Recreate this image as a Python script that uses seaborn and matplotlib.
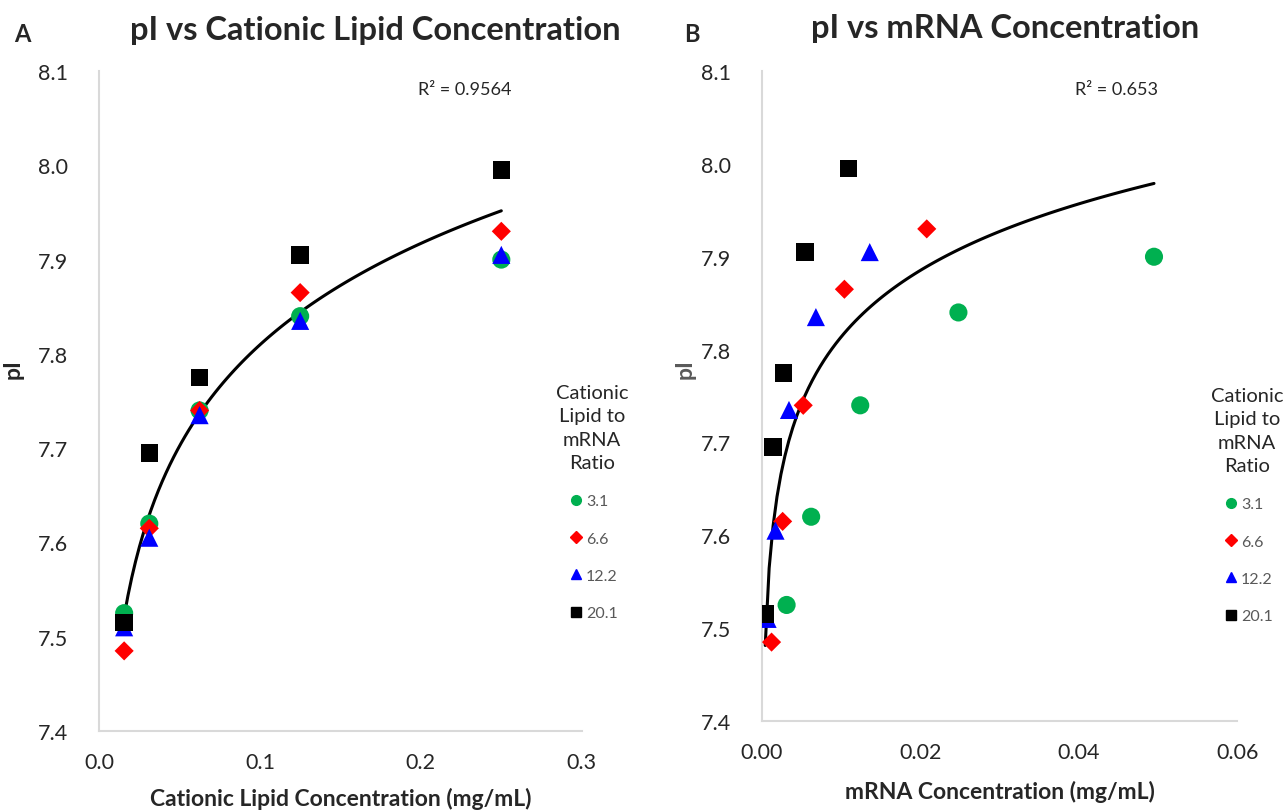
import pandas as pd
import matplotlib
matplotlib.use('Agg')
import matplotlib.pyplot as plt
import seaborn as sns
from matplotlib.lines import Line2D
from matplotlib.ticker import FormatStrFormatter, MultipleLocator

# Dados
razoes = ['3.1', '6.6', '12.2', '20.1']
lipid_conc = [0.015625, 0.03125, 0.0625, 0.125, 0.25]
mrna_conc = {
    '3.1': [0.0031, 0.0062, 0.0124, 0.0248, 0.0495],
    '6.6': [0.0012, 0.0026, 0.0052, 0.0104, 0.0208],
    '12.2': [0.0007, 0.0017, 0.0034, 0.0068, 0.0136],
    '20.1': [0.0004, 0.00136, 0.0027, 0.0054, 0.0109],
}
pI = {
    '3.1': [7.525, 7.62, 7.74, 7.84, 7.90],
    '6.6': [7.485, 7.615, 7.74, 7.865, 7.93],
    '12.2': [7.51, 7.605, 7.735, 7.835, 7.905],
    '20.1': [7.515, 7.695, 7.775, 7.905, 7.995],
}
r2_lipid = 'R² = 0.9564'
r2_mrna = 'R² = 0.653'

cores = {'3.1': '#00b050', '6.6': '#ff0000', '12.2': '#0000ff', '20.1': '#000000'}
marcadores = {'3.1': 'o', '6.6': 'D', '12.2': '^', '20.1': 's'}
tamanhos = {'3.1': 170, '6.6': 95, '12.2': 170, '20.1': 160}

linhas = []
for r in razoes:
    for i in range(5):
        linhas.append({'ratio': r, 'lipid': lipid_conc[i], 'mrna': mrna_conc[r][i], 'pI': pI[r][i]})
df = pd.DataFrame(linhas)

sns.set_style('white')
plt.rcParams['font.family'] = ['Lato', 'DejaVu Sans']

fig = plt.figure(figsize=(12.84, 8.12), dpi=100)
ax1 = fig.add_axes([0.0771, 0.0985, 0.376, 0.8128])
ax2 = fig.add_axes([0.5935, 0.1108, 0.370, 0.8005])

paineis = [
    (ax1, 'lipid', r2_lipid, 0.3, 0.1, '%.1f', 'Cationic Lipid Concentration (mg/mL)',
     0.758, (592 / 1284, 1 - 385 / 812), 11),
    (ax2, 'mrna', r2_mrna, 0.06, 0.02, '%.2f', 'mRNA Concentration (mg/mL)',
     0.747, (1247 / 1284, 1 - 388 / 812), 13),
]

for ax, xcol, r2, xmax, xstep, fmt, xlabel, r2x, leg_pos, lpad in paineis:
    sns.scatterplot(data=df, x=xcol, y='pI', hue='ratio', style='ratio', size='ratio',
                    palette=cores, markers=marcadores, sizes=tamanhos,
                    linewidth=0, legend=False, ax=ax, zorder=3)
    sns.regplot(data=df, x=xcol, y='pI', logx=True, scatter=False, ci=None,
                color='black', line_kws={'lw': 2.2, 'zorder': 2}, ax=ax)
    ax.set_xlim(0, xmax)
    ax.set_ylim(7.4, 8.1)
    ax.xaxis.set_major_locator(MultipleLocator(xstep))
    ax.yaxis.set_major_locator(MultipleLocator(0.1))
    ax.xaxis.set_major_formatter(FormatStrFormatter(fmt))
    ax.yaxis.set_major_formatter(FormatStrFormatter('%.1f'))
    ax.tick_params(axis='both', length=0, labelsize=15.5, colors='#262626')
    ax.tick_params(axis='x', pad=15)
    ax.tick_params(axis='y', pad=22)
    for lado in ['top', 'right']:
        ax.spines[lado].set_visible(False)
    for lado in ['left', 'bottom']:
        ax.spines[lado].set_color('#d9d9d9')
        ax.spines[lado].set_linewidth(1.5)
    ax.set_xlabel(xlabel, fontsize=16.5, fontweight='bold', labelpad=lpad)
    ax.set_ylabel('')
    ax.text(r2x, 0.973, r2, transform=ax.transAxes, ha='center', va='center', fontsize=13)

    handles = [Line2D([], [], marker=marcadores[r], color=cores[r], linestyle='',
                      markersize=7 if r != '6.6' else 6) for r in razoes]
    leg = fig.legend(handles, razoes, title='Cationic\nLipid to\nmRNA\nRatio',
                     loc='upper center', bbox_to_anchor=leg_pos, frameon=False,
                     fontsize=11.5, title_fontsize=14.5, labelspacing=1.45,
                     handletextpad=0.05, handlelength=1.2, alignment='center',
                     borderpad=0, borderaxespad=0)
    titulo = leg.get_title()
    titulo.set_multialignment('center')
    titulo.set_linespacing(1.45)
    for t in leg.get_texts():
        t.set_color('#595959')

fig.text(0.0105, 0.545, 'pI', rotation=90, ha='center', va='center', fontsize=16.5, fontweight='bold')
fig.text(0.5335, 0.545, 'pI', rotation=90, ha='center', va='center', fontsize=16.5,
         fontweight='bold', color='#595959')
fig.text(0.0175, 0.957, 'A', ha='center', va='center', fontsize=17, fontweight='bold')
fig.text(0.539, 0.957, 'B', ha='center', va='center', fontsize=17, fontweight='bold')
fig.text(0.292, 0.962, 'pI vs Cationic Lipid Concentration', ha='center', va='center',
         fontsize=23.5, fontweight='bold')
fig.text(0.783, 0.965, 'pI vs mRNA Concentration', ha='center', va='center',
         fontsize=23.5, fontweight='bold')

fig.savefig('out.png', dpi=100)
